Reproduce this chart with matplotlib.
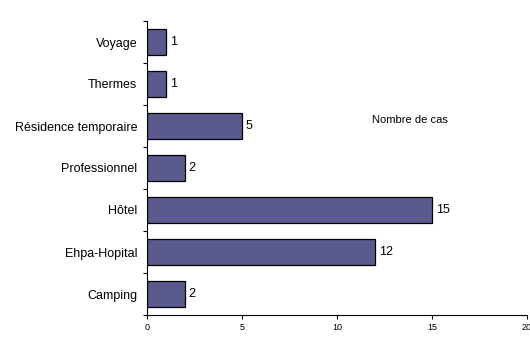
import matplotlib
matplotlib.use("Agg")
import matplotlib.pyplot as plt

plt.rcParams['font.family'] = ['Liberation Sans', 'DejaVu Sans']

# lieux d'exposition, du bas vers le haut
lieux = ["Camping", "Ehpa-Hopital", "Hôtel", "Professionnel",
         "Résidence temporaire", "Thermes", "Voyage"]
nb_cas = [2, 12, 15, 2, 5, 1, 1]
x_ticks = [0, 5, 10, 15, 20]

fig = plt.figure(figsize=(5.3, 3.38), dpi=100)
ax = fig.add_axes([147 / 530, 23 / 338, 380 / 530, 294 / 338])

pos = range(len(lieux))
ax.barh(pos, nb_cas, height=0.64, color="#5a5a8f", edgecolor="black", linewidth=0.9)

for y, v in zip(pos, nb_cas):
    ax.text(v + 0.2, y, str(v), va="center", ha="left", fontsize=9)

ax.set_xlim(0, 20)
ax.set_ylim(-0.5, len(lieux) - 0.5)
ax.set_xticks(x_ticks)
ax.set_xticklabels([str(t) for t in x_ticks], fontsize=6.5)

# ticks between categories, labels centred on the bars
ax.set_yticks([p - 0.5 for p in range(len(lieux) + 1)])
ax.set_yticklabels([])
ax.set_yticks(list(pos), minor=True)
ax.set_yticklabels(lieux, minor=True, fontsize=9)
ax.tick_params(axis="y", which="minor", length=0, pad=7)
ax.tick_params(axis="y", which="major", length=3, width=0.8, direction="out")
ax.tick_params(axis="x", length=3, width=0.8, direction="out", pad=3)

for side in ["top", "right"]:
    ax.spines[side].set_visible(False)
for side in ["left", "bottom"]:
    ax.spines[side].set_linewidth(0.8)

fig.text(372 / 530, 1 - 120 / 338, "Nombre de cas", fontsize=8, va="center", ha="left")

fig.savefig("out.png", dpi=100)
